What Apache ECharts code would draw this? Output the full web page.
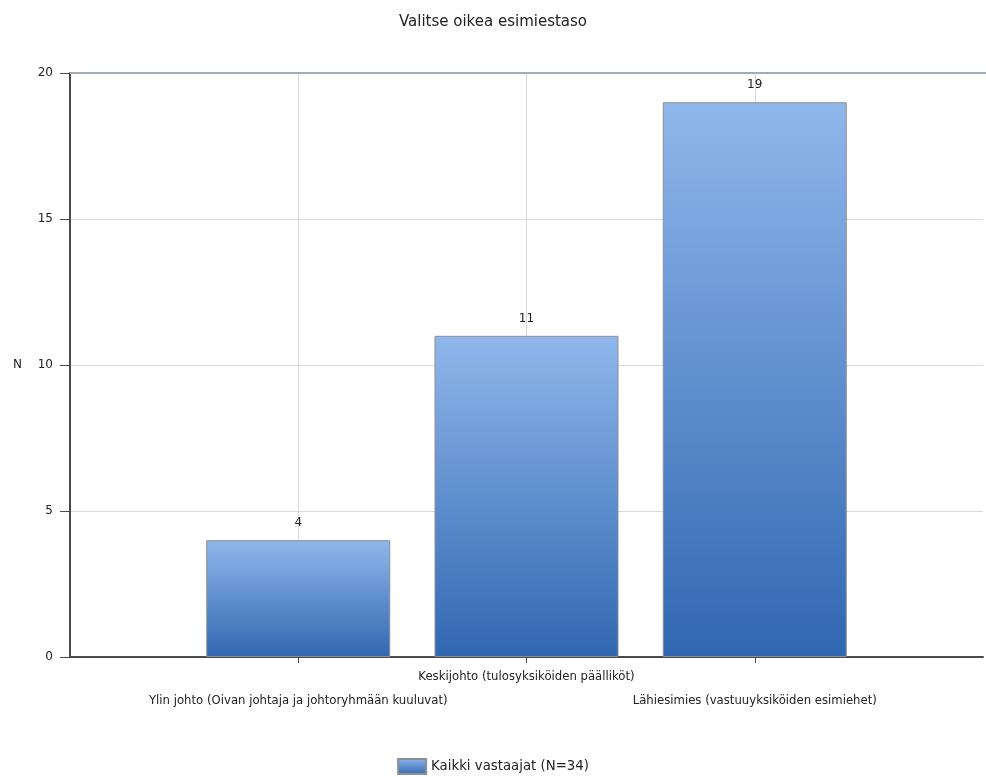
<!DOCTYPE html>
<html>
<head>
<meta charset="utf-8">
<script src="https://cdn.jsdelivr.net/npm/echarts@6/dist/echarts.min.js"></script>
<style>
html,body{margin:0;padding:0;background:#fff;overflow:hidden;}
#chart{width:986px;height:777px;}
</style>
</head>
<body>
<div id="chart"></div>
<script>
const titleText = 'Valitse oikea esimiestaso';
const categories = ['', 'Ylin johto (Oivan johtaja ja johtoryhmään kuuluvat)', 'Keskijohto (tulosyksiköiden päälliköt)', 'Lähiesimies (vastuuyksiköiden esimiehet)', ''];
const seriesName = 'Kaikki vastaajat (N=34)';
const values = [null, 4, 11, 19, null];
const yTicks = [0, 5, 10, 15, 20];

const FONT = 'DejaVu Sans';
const chart = echarts.init(document.getElementById('chart'), null, {width: 986, height: 777});
const isReal = (i) => categories[i] !== '';

chart.setOption({
  animation: false,
  backgroundColor: '#fff',
  title: {
    text: titleText, left: 'center', top: 10,
    textStyle: {fontFamily: FONT, fontSize: 15, fontWeight: 'normal', color: '#222'}
  },
  legend: {
    top: 753, left: 'center',
    icon: 'rect',
    itemWidth: 28, itemHeight: 15, itemGap: 6,
    textStyle: {fontFamily: FONT, fontSize: 13.3, color: '#222'},
    data: [seriesName]
  },
  grid: {left: 70, right: 0, top: 73, bottom: 120, containLabel: false},
  xAxis: {
    type: 'category', data: categories, boundaryGap: false,
    axisLine: {show: true, lineStyle: {color: '#4a4a4a', width: 2}},
    axisTick: {show: true, length: 6, interval: (i) => isReal(i), lineStyle: {color: '#4a4a4a'}},
    splitLine: {show: true, interval: (i) => isReal(i), lineStyle: {color: '#d9d9d9', width: 1}},
    axisLabel: {
      interval: 0, margin: 8, fontFamily: FONT, fontSize: 11.7, color: '#222', lineHeight: 24,
      formatter: (v, i) => (i === 2 ? v : '\n' + v)
    }
  },
  yAxis: {
    type: 'value', min: yTicks[0], max: yTicks[yTicks.length - 1], interval: 5,
    name: 'N', nameLocation: 'middle', nameGap: 48, nameRotate: 0,
    nameTextStyle: {fontFamily: FONT, fontSize: 12, color: '#222'},
    axisLine: {show: true, lineStyle: {color: '#4a4a4a', width: 2}},
    axisTick: {show: true, length: 10, lineStyle: {color: '#4a4a4a'}},
    axisLabel: {margin: 17, fontFamily: FONT, fontSize: 12, color: '#222'},
    splitLine: {show: true, lineStyle: {color: '#d9d9d9', width: 1}}
  },
  series: [{
    name: seriesName, type: 'bar', data: values, barWidth: 184,
    itemStyle: {
      color: new echarts.graphic.LinearGradient(0, 0, 0, 1, [
        {offset: 0, color: '#8fb7eb'},
        {offset: 1, color: '#3167b1'}
      ]),
      borderColor: '#8a8f96', borderWidth: 1
    },
    label: {show: true, position: 'top', distance: 11, fontFamily: FONT, fontSize: 12, color: '#222'},
    z: 2
  }],
  graphic: [{
    type: 'line', z: 5,
    shape: {x1: 70, y1: 73, x2: 986, y2: 73},
    style: {stroke: '#a3acb6', lineWidth: 2}
  }]
});
</script>
</body>
</html>
